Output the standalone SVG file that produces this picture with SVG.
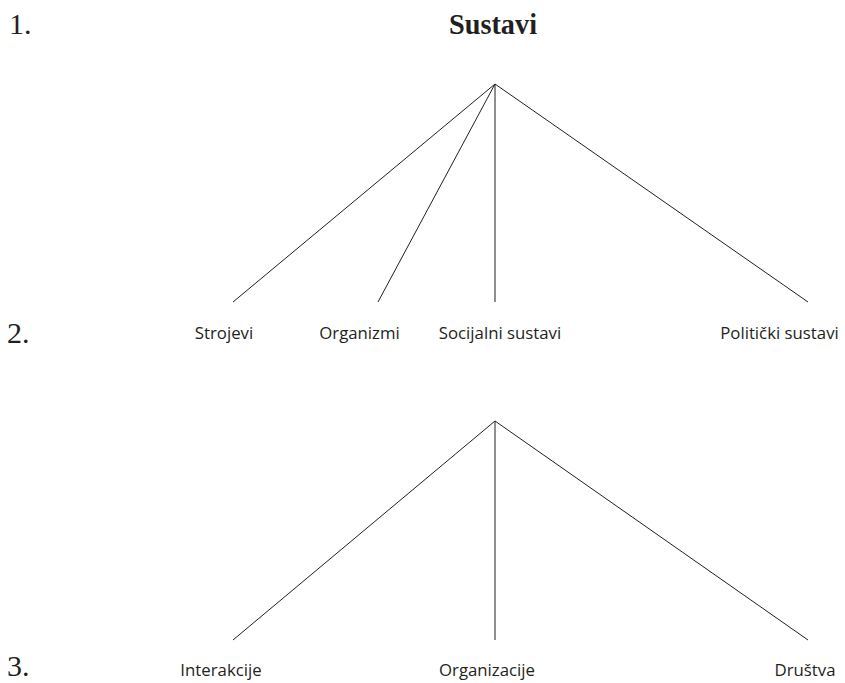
<svg xmlns="http://www.w3.org/2000/svg" width="845" height="683" viewBox="0 0 845 683">
<style>
.num{font-family:"Liberation Serif","Times New Roman",serif;font-size:30px;fill:#231f20}
.title{font-family:"Liberation Serif","Times New Roman",serif;font-size:29px;font-weight:bold;fill:#231f20}
.lbl{font-family:"Open Sans","Liberation Sans",sans-serif;font-size:16.8px;fill:#231f20;text-anchor:middle}
.edge{stroke:#231f20;stroke-width:1;fill:none}
</style>
<rect width="845" height="683" fill="#fff"/>
<text class="num" x="9" y="34">1.</text>
<text class="num" x="7" y="343">2.</text>
<text class="num" x="7" y="676">3.</text>
<g id="sustavi"><text class="title" x="449" y="34" textLength="88" lengthAdjust="spacingAndGlyphs">Sustavi</text></g>
<g id="strojevi"><text class="lbl" x="224" y="339">Strojevi</text></g>
<g id="organizmi"><text class="lbl" x="359.5" y="339">Organizmi</text></g>
<g id="socijalni"><text class="lbl" x="500" y="339">Socijalni sustavi</text></g>
<g id="politicki"><text class="lbl" x="779.5" y="339">Politički sustavi</text></g>
<g id="interakcije"><text class="lbl" x="221" y="676">Interakcije</text></g>
<g id="organizacije"><text class="lbl" x="487" y="676">Organizacije</text></g>
<g id="drustva"><text class="lbl" x="805" y="676">Društva</text></g>
<g id="connectors">
<line class="edge" x1="495" y1="84" x2="233" y2="302"/>
<line class="edge" x1="495" y1="84" x2="378" y2="302"/>
<line class="edge" x1="495" y1="84" x2="495" y2="302"/>
<line class="edge" x1="495" y1="84" x2="808" y2="302"/>
<line class="edge" x1="495" y1="421" x2="233" y2="640"/>
<line class="edge" x1="495" y1="421" x2="495" y2="640"/>
<line class="edge" x1="495" y1="421" x2="808" y2="640"/>
</g>
</svg>
